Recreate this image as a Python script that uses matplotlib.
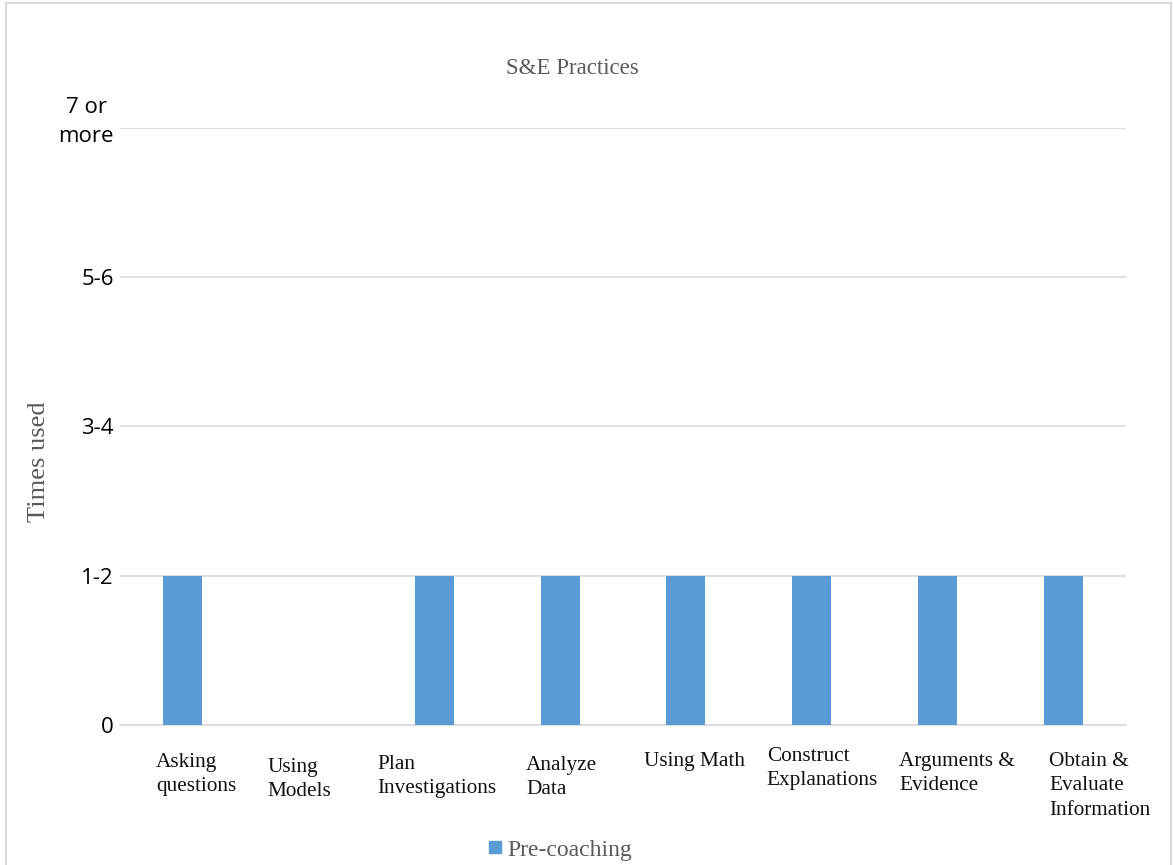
import matplotlib
matplotlib.use("Agg")
import matplotlib.pyplot as plt
from matplotlib.patches import Rectangle
from matplotlib.lines import Line2D
from matplotlib.transforms import ScaledTranslation

categories = ["Asking\nquestions", "Using\nModels", "Plan\nInvestigations", "Analyze\nData",
              "Using Math", "Construct\nExplanations", "Arguments &\nEvidence",
              "Obtain &\nEvaluate\nInformation"]
pre_coaching = [1, 0, 1, 1, 1, 1, 1, 1]
y_ticks = [0, 1, 2, 3, 4]
y_labels = ["0", "1-2", "3-4", "5-6", "7 or\nmore"]
series_name = "Pre-coaching"

# label placement (pixels relative to category centre / axis bottom)
label_dx = [-27, -41, -57, -34, -42, -45, -38, -14]
label_top = [28, 33, 30, 31, 27, 22, 27, 27]

W, H = 1173, 865
fig = plt.figure(figsize=(W / 100, H / 100), dpi=100)
ax = fig.add_axes([120 / W, 1 - 725 / H, 1006 / W, 597 / H])

bar_color = "#5B9BD5"
grid_color = "#D9D9D9"
x = list(range(len(categories)))
ax.bar(x, pre_coaching, width=0.31, color=bar_color, zorder=3)
ax.set_xlim(-0.5, len(categories) - 0.5)
ax.set_ylim(0, 4)
ax.tick_params(axis="y", length=0, pad=4.5)
ax.set_yticks(y_ticks)
ax.set_yticklabels(y_labels, fontfamily="Open Sans", fontsize=16, multialignment="center",
                   linespacing=1.45)
ylabs = ax.get_yticklabels()
ylabs[-1].set_transform(ylabs[-1].get_transform() +
                        ScaledTranslation(0, 12 / 100, fig.dpi_scale_trans))
ax.set_xticks([])
ax.grid(axis="y", color=grid_color, linewidth=1.2, zorder=0)
for s in ["top", "right", "left"]:
    ax.spines[s].set_visible(False)
ax.spines["bottom"].set_color(grid_color)
ax.spines["bottom"].set_linewidth(1.2)

for i, lab in enumerate(categories):
    ax.annotate(lab, xy=(i, 0), xycoords="data",
                xytext=(label_dx[i] * 0.72, -label_top[i] * 0.72), textcoords="offset points",
                ha="left", va="top", fontfamily="Liberation Serif", fontsize=15.3,
                linespacing=1.38, color="#111111")

fig.text(572 / W, 1 - 68 / H, "S&E Practices", ha="center", va="center",
         fontfamily="Liberation Serif", fontsize=16.5, color="#595959")
fig.text(39 / W, 1 - 462 / H, "Times used", ha="center", va="center", rotation=90,
         fontfamily="Liberation Serif", fontsize=19, color="#595959")

handle = Line2D([], [], marker="s", linestyle="none", markersize=9, color=bar_color)
fig.legend([handle], [series_name], loc="center", bbox_to_anchor=(559 / W, 1 - 850 / H),
           frameon=False, prop={"family": "Liberation Serif", "size": 17},
           labelcolor="#595959", handletextpad=0.1, handlelength=0.8)

fig.patches.append(Rectangle((6 / W, -0.01), (1171 - 6) / W, 1.01 - 3 / H,
                             transform=fig.transFigure, fill=False,
                             edgecolor=grid_color, linewidth=1.5))

fig.savefig("out.png", dpi=100)
